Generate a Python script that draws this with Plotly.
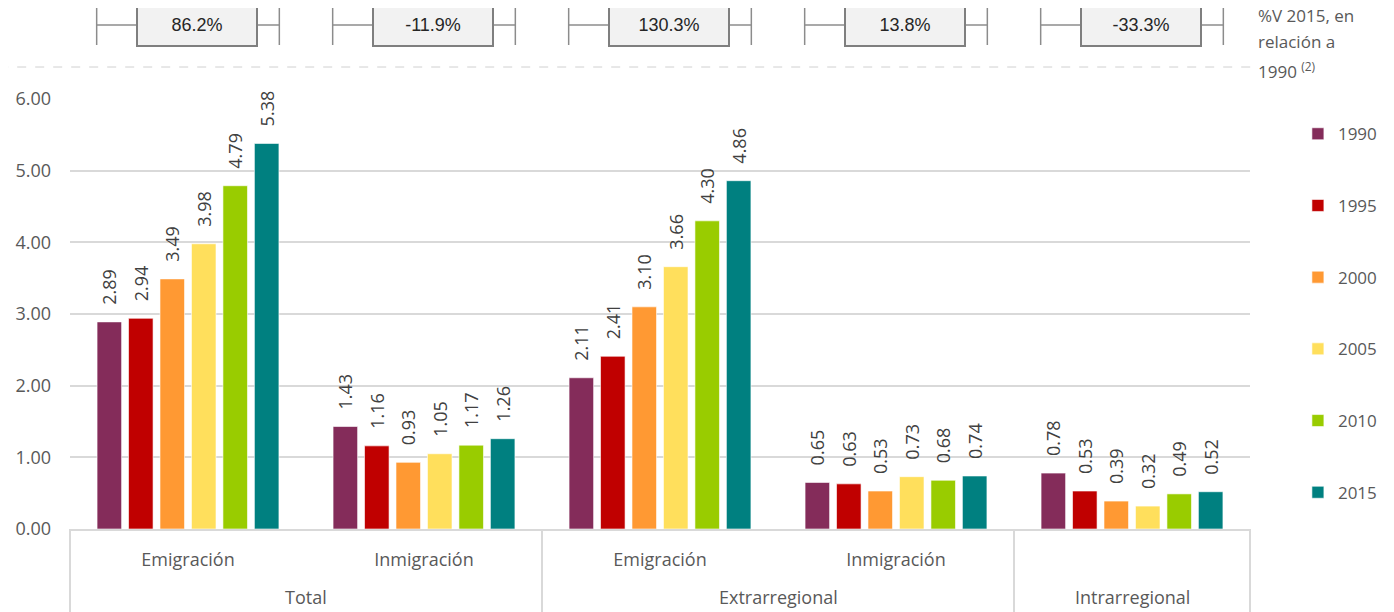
import plotly.graph_objects as go

# categories (two-level axis)
regions = ["Total", "Total", "Extrarregional", "Extrarregional", "Intrarregional"]
flows = ["Emigración", "Inmigración", "Emigración", "Inmigración", ""]

years = ["1990", "1995", "2000", "2005", "2010", "2015"]
colors = ["#842C5A", "#C00000", "#FF9933", "#FFDF5C", "#99CC00", "#008080"]

# values by year, one entry per category
v1990 = [2.89, 1.43, 2.11, 0.65, 0.78]
v1995 = [2.94, 1.16, 2.41, 0.63, 0.53]
v2000 = [3.49, 0.93, 3.10, 0.53, 0.39]
v2005 = [3.98, 1.05, 3.66, 0.73, 0.32]
v2010 = [4.79, 1.17, 4.30, 0.68, 0.49]
v2015 = [5.38, 1.26, 4.86, 0.74, 0.52]
series = [v1990, v1995, v2000, v2005, v2010, v2015]

# %V 2015 vs 1990
pct_change = ["86.2%", "-11.9%", "130.3%", "13.8%", "-33.3%"]

FONT = "Open Sans"
GREY = "#595959"
LIGHT = "#D9D9D9"

# unique category keys, shown with the flow names
keys = ["{}|{}".format(r, f) for r, f in zip(regions, flows)]
n = len(keys)

fig = go.Figure()
for year, color, vals in zip(years, colors, series):
    fig.add_trace(go.Bar(
        x=keys,
        y=vals,
        name=year,
        legendgroup=year,
        marker=dict(color=color, line=dict(color="rgba(255,255,255,0.6)", width=1)),
        text=["\u00a0\u00a0\u00a0{:.2f}".format(v) for v in vals],
        textposition="outside",
        textangle=-90,
        constraintext="none",
        cliponaxis=False,
        textfont=dict(family=FONT, size=18, color="#404040"),
    ))

shapes = []
annotations = []

# %V boxes with whiskers over each group
half = 0.387 / n
for i, label in enumerate(pct_change):
    cx = (i + 0.5) / n
    shapes.append(dict(type="line", xref="paper", yref="paper",
                       x0=cx - half, x1=cx + half, y0=1.1721, y1=1.1721,
                       line=dict(color="#8c8c8c", width=1.5)))
    for ex in (cx - half, cx + half):
        shapes.append(dict(type="line", xref="paper", yref="paper",
                           x0=ex, x1=ex, y0=1.1256, y1=1.2139,
                           line=dict(color="#8c8c8c", width=1.5)))
    annotations.append(dict(x=cx, y=1.1721, xref="paper", yref="paper",
                            xanchor="center", yanchor="middle", xshift=9,
                            text=label, showarrow=False,
                            font=dict(family="Liberation Sans", size=18, color="#262626"),
                            bgcolor="#F2F2F2", bordercolor="#7F7F7F", borderwidth=2,
                            borderpad=0, width=118, height=40))

shapes.append(dict(type="line", xref="paper", yref="paper",
                   x0=-0.06, x1=1.003, y0=1.0744, y1=1.0744,
                   line=dict(color="#d0d0d0", width=1, dash="dash")))

# side note
for txt, yy in zip(["%V 2015, en", "relación a", "1990 <sup>(2)</sup>"], [1.195, 1.1326, 1.0674]):
    annotations.append(dict(x=1.005, y=yy, xref="paper", yref="paper",
                            xanchor="left", yanchor="middle", align="left",
                            text=txt, showarrow=False,
                            font=dict(family=FONT, size=17, color=GREY)))

# second level of the category axis
parents = []
for i, r in enumerate(regions):
    if parents and parents[-1][0] == r:
        parents[-1][2] = i + 1
    else:
        parents.append([r, i, i + 1])
for name, start, end in parents:
    annotations.append(dict(x=(start + end) / 2 / n, y=-0.158, xref="paper", yref="paper",
                            xanchor="center", yanchor="middle", text=name, showarrow=False,
                            font=dict(family=FONT, size=18, color=GREY)))
    for edge in (start, end):
        shapes.append(dict(type="line", xref="paper", yref="paper",
                           x0=edge / n, x1=edge / n, y0=0, y1=-0.2,
                           line=dict(color=LIGHT, width=2)))

fig.update_layout(
    width=1386, height=604,
    margin=dict(l=62, r=142, t=91, b=83),
    paper_bgcolor="white", plot_bgcolor="white",
    barmode="group", bargap=0.2, bargroupgap=0.22,
    font=dict(family=FONT, size=16, color=GREY),
    legend=dict(x=1.0406, y=0.96, xanchor="left", yanchor="top",
                tracegroupgap=46.6, font=dict(family=FONT, size=17, color=GREY),
                itemwidth=30),
    shapes=shapes,
    annotations=annotations,
    showlegend=True,
)
fig.update_yaxes(range=[0, 6], dtick=1, tickformat=".2f",
                 gridcolor=LIGHT, gridwidth=2, zeroline=False, automargin=False,
                 showline=False, tickfont=dict(size=18, color=GREY), ticks="",
                 ticklabelstandoff=18)
fig.update_xaxes(type="category", tickvals=keys, ticktext=flows, automargin=False,
                 showline=True, linecolor=LIGHT, linewidth=2,
                 tickfont=dict(size=18, color=GREY), ticks="",
                 ticklabelstandoff=13)

fig.write_html("out.html")
